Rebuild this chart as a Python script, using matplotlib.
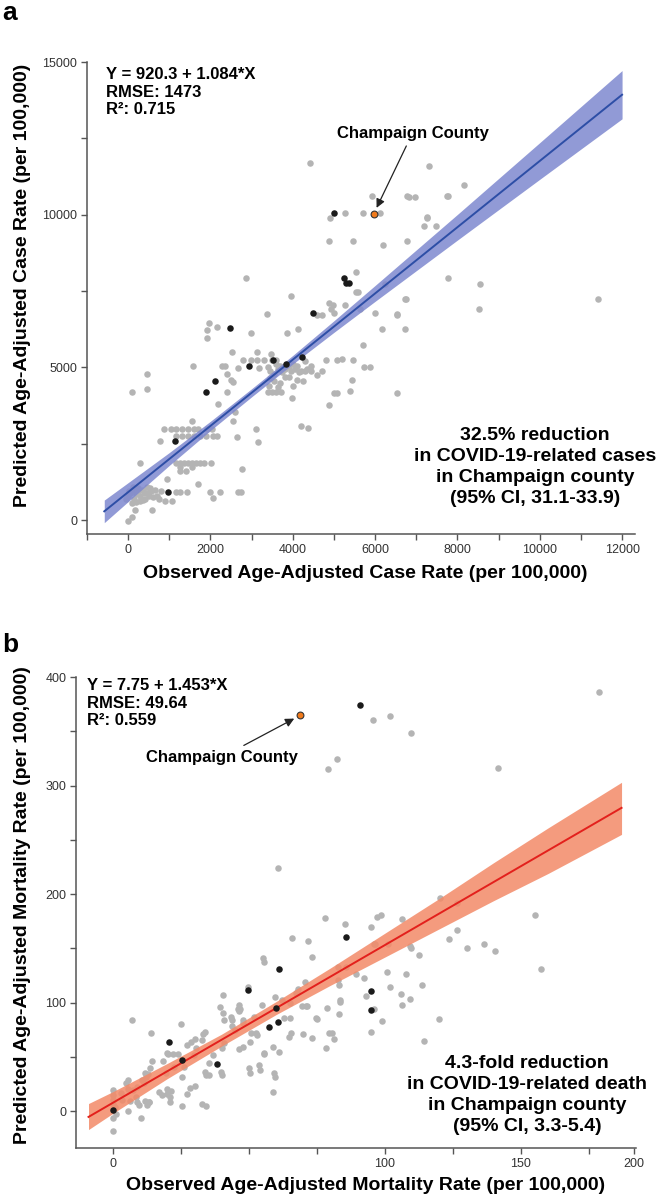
import matplotlib
matplotlib.use('Agg')
import matplotlib.pyplot as plt
import numpy as np

plt.rcParams['font.family'] = ['Liberation Sans', 'DejaVu Sans']

# ---------------- panel a : case rate ----------------
A_INTERCEPT = 920.3
A_SLOPE = 1.084

a_gray_x = [4420, 5923, 4897, 5268, 5697, 6108, 6780, 6820, 6980, 7272, 7192, 7490, 4872, 5454, 6189, 6787,
            2852, 5527, 5534, 3959, 3369, 4920, 4880, 4990, 4700, 4590, 4981, 5270, 6003, 6528, 6731,
            1956, 2150, 1907, 1923, 7312, 8160, 7740, 7780, 7262, 7765, 8540, 11417, 8517, 6747, 6536,
            6157, 6722, 5713, 4816, 5066, 5188, 5470, 5720, 5866, 5437, 5000, 5066, 5398, 6528, 6230,
            5630, 5580, 4137, 3870, 2974, 2529, 3135, 3475, 2780, 2980, 3135, 3297, 1584, 2286, 2350,
            2675, 3168, 453, 453, 105, 2392, 2392, 2489, 2553, 2189, 2594, 2545, 3390, 3500, 3600, 3710,
            3990, 3095, 3160, 2642, 2764, 2666, 2747, 4194, 4380, 4877,
            3400, 3450, 3550, 3600, 3650, 3700, 3750, 3800, 3900, 3950, 4000, 4050, 4100, 4150, 4200,
            4300, 4350, 4450, 4100, 3700, 3800, 3500, 3600, 3900, 4000, 3650, 4300, 4450, 3420, 3550,
            3450, 4250, 4600, 4700,
            1551, 880, 1050, 1160, 1300, 1450, 1600, 1700, 1907, 2030, 776,
            1160, 1300, 1450, 1600, 1750, 1900, 2060, 2170,
            290, 1160, 1250, 1350, 1450, 1550, 1650, 1750, 1840, 2010, 1260, 1400, 1260, 1550,
            1697, 945, 1163, 1250, 1430, 1995, 2222, 2052, 1067, 890,
            -50, 0, 50, 100, 150, 200, 250, 300, 350, 400, 450, 500, 550, 600, 650, 700, 350, 250,
            450, 100, 200, -7, 105, 170, 582, 800, 750, 30, 120, 280, 380, 520]
a_gray_y = [11710, 10620, 9900, 10060, 10060, 10060, 10620, 10590, 10590, 9910, 9630, 9620, 9150, 9150, 9000, 9150,
            7930, 8140, 7470, 7350, 6735, 6900, 7100, 6800, 6720, 6720, 7040, 7040, 6790, 6735, 7250,
            6470, 6330, 6230, 5980, 11580, 10980, 10600, 10600, 9900, 7940, 7740, 7240, 6900, 7240, 6720,
            6250, 6270, 5750, 5240, 5240, 5290, 5250, 5030, 5030, 4600, 4180, 4180, 4240, 4155, 7740,
            6900, 7460, 6260, 6120, 6120, 5520, 5520, 5430, 5260, 5260, 5260, 5260, 5040, 5040, 5040,
            4990, 4990, 4780, 4310, 4190, 4790, 4190, 4600, 4530, 3790, 3540, 3260, 4190, 4190, 4190, 4190,
            4000, 2990, 2570, 2740, 1690, 930, 930, 3100, 3020, 3760,
            5000, 4900, 4800, 5100, 4950, 5050, 4850, 4950, 5000, 4900, 5100, 4950, 5050, 4850, 4900,
            4900, 4950, 4900, 4600, 4500, 4700, 5250, 5250, 4700, 4400, 4350, 5200, 5050, 4400, 4550,
            4650, 4550, 4750, 4900,
            3260, 2990, 2990, 2990, 2990, 2990, 2990, 2990, 2990, 2990, 2580,
            2770, 2770, 2770, 2770, 2770, 2770, 2770, 2770,
            1880, 1880, 1880, 1880, 1880, 1880, 1880, 1880, 1880, 1880, 1600, 1600, 1740, 1740,
            1180, 1350, 930, 930, 930, 930, 930, 714, 636, 636,
            700, 800, 900, 1000, 700, 850, 950, 800, 1000, 700, 900, 800, 950, 750, 1000, 800, 650, 1050,
            1100, 550, 600, -20, 110, 330, 330, 950, 700, 950, 1080, 620, 880, 1050]
a_black_x = [5010, 5252, 5284, 5365, 4500, 2473, 3522, 2925, 3846, 4234, 2101, 1883, 1147, 961]
a_black_y = [10060, 7930, 7750, 7750, 6790, 6300, 5250, 5040, 5120, 5330, 4560, 4190, 2580, 930]
a_orange = (5963, 10020)

a_band_x = [-580, 0, 1000, 2000, 3000, 4000, 5000, 6000, 8000, 10000, 12000]
a_band_lo = [-80, 610, 1795, 2940, 4040, 5115, 6150, 7165, 9170, 11160, 13140]
a_band_hi = [660, 1230, 2215, 3240, 4305, 5395, 6530, 7685, 10010, 12360, 14720]

# ---------------- panel b : mortality rate ----------------
B_INTERCEPT = 7.75
B_SLOPE = 1.453

b_gray_x = [95.7, 101.8, 109.4, 79.1, 82.4, 141.7, 178.6, 60.5,
            120.3, 126.6, 155, 98.5, 97.2, 77.9, 85.4, 106.4, 94.8, 126.5, 123.5, 136.6, 130.2, 140.3,
            109.2, 109.6, 96.4, 101.1, 112.5, 157.5, 65.7, 71.6, 55.2, 55.6, 73, 49.5, 40.3, 39.5, 40.4,
            59.7, 67.9, 67.2, 70.7, 71.3, 78.8, 75, 83.3, 83.3, 83.1, 92.3, 92.9, 89.2, 95.9, 95, 99,
            100.9, 101.9, 105.8, 106.3, 107.7, 109.1, 113.8, 114.2, 120, 65.5, 64.7, 69.7, 73, 78.5,
            79.6, 80.4, 81.2, 61, 55.6, 59.4, 58.8, 54.1, 50.3, 53.1, 43.4, 43.9, 47.9, 46.2, 46.7,
            50.9, 46.2, 40, 40.8, 40, 36.8, 35.2, 34.2, 34.2, 33.7, 33.2, 32.6, 30.6, 29.8, 30.1, 28.4,
            25.4, 27.4, 24, 25.1, 26.2, 25.5, 27.4, 22, 22.4, 20.4, 21.5, 20.8, 20.8, 18, 19.6, 14.3,
            13.6, 14.1, 12.7, 11.8, 11.4, 10.6, 13.3, 12.5, 10.2, 6.9, 7.5, 8.6, 8.9, 9.4, 5.5, 4.9, 5.5,
            2.8, 3.4, 0, 0, 0, 0, 0, 0, 0.8, 1.1,
            45.8, 41, 43.9, 28.6, 30, 19.7, 18.5, 47.8, 50.3, 52.6, 55.4, 58.8, 49.9, 53.7, 59.1, 12.1,
            20, 19.7, 16.8, 13.3, 8.7, 5.6, 6.2, 11.7, 32.7, 35.4, 33.7, 39.8,
            82.6, 83.2, 85.5, 82.6, 67.5, 69.4, 71, 74.6, 46.2, 47.9, 44.8, 51.9, 54.9, 62, 65.1, 62.8,
            65, 95.8]
b_gray_y = [360.4, 364.3, 348.4, 314.9, 324.4, 316, 385.9, 224.3,
            196, 192, 180.3, 181, 178.5, 178.2, 172, 176.6, 169.9, 166.8, 158.2, 153.6, 149.9, 147.8,
            152.4, 150.5, 153.6, 153.9, 143.8, 130.9, 159.1, 156.4, 141.3, 137.6, 142.2, 114, 106.9, 95.9, 90.3,
            104.8, 113, 108.4, 118.6, 97.1, 94.6, 84.8, 102, 100.5, 89.1, 122.9, 106, 126.3, 94.3, 73.1, 82.6,
            128.4, 114.3, 107.8, 97.4, 126, 103.2, 115.8, 64.2, 85.1, 72.2, 68.5, 71, 67.6, 58.1,
            71.6, 71.6, 66.7, 54.1, 52.5, 31.6, 17.2, 38.1, 35.6, 70, 86.3, 83.9, 83.9, 92.5, 94.3,
            71.6, 56.8, 58.4, 63, 33.2, 51.6, 33.2, 33.2, 4.3, 73.1, 71, 65.4, 57.8, 51.6, 23.3, 20.9,
            31.6, 60.8, 53.1, 79.9, 40.9, 4.9, 16, 53.1, 40.9, 52.5, 18.7, 13.2, 8.3, 14.7, 34.7, 46.1,
            39.9, 71.6, 34.1, 34.7, 25.5, 28.6, 8, 5.5, -6.5, 83.9, 19.4, 13.2, 8.6, 5.5, 28.6, 25.5, 0,
            16.3, 10.1, 19.4, 14.7, 10.1, 7, -6.1, -18.4, 4, -2.2,
            93.7, 83.9, 78.4, 63.6, 66.6, 53.5, 46.2, 59.1, 64, 71.9, 53.9, 59.4, 39.8, 42.6, 35.4, 31.1,
            20.3, 15.7, 17.2, 8.6, 21.8, 20.3, 9.5, 9.8, 7, 43.9, 35.7, 35.7,
            120.7, 116.1, 133, 133, 110, 96.5, 96.5, 85.4, 97.7, 80.8, 74.5, 86.9, 98.2, 102.3, 99.2, 85.4,
            85.4, 153.9]
b_black_x = [0.1, 20.7, 25.5, 38.4, 49.8, 57.2, 60, 60.8, 61.1, 85.6, 95, 95, 91]
b_black_y = [0.9, 63.6, 46.7, 43.6, 111.2, 77.4, 94.6, 81.7, 131.2, 160.4, 110.3, 92.8, 374.5]
b_orange = (68.9, 364.7)

b_band_x = [-9, 0, 20, 40, 60, 80, 100, 120, 140, 160, 187]
b_band_lo = [-17, -2, 30, 60, 89, 116, 142, 168, 194, 219, 255]
b_band_hi = [7, 18, 44, 71, 101, 132, 164, 196, 229, 261, 303]

GRAY = '#b4b4b4'
BLACK = '#1a1a1a'
ORANGE = '#f07a1c'
TICK_COLOR = '#333333'
SPINE_COLOR = '#555555'


def style_axes(ax):
    for side in ['top', 'right']:
        ax.spines[side].set_visible(False)
    for side in ['left', 'bottom']:
        ax.spines[side].set_color(SPINE_COLOR)
        ax.spines[side].set_linewidth(1.1)
    ax.tick_params(direction='out', length=4, width=1, color=SPINE_COLOR,
                   labelsize=9, labelcolor=TICK_COLOR, pad=3)


def draw_panel(ax, gx, gy, bx, by, orange, band_x, lo, hi, intercept, slope,
               band_color, line_color):
    ax.scatter(gx, gy, s=22, color=GRAY, linewidths=0, zorder=1)
    ax.fill_between(band_x, lo, hi, color=band_color, alpha=0.85, linewidth=0, zorder=2)
    xs = np.array([band_x[0], band_x[-1]])
    ax.plot(xs, intercept + slope * xs, color=line_color, lw=1.4, zorder=3)
    ax.scatter(bx, by, s=22, color=BLACK, linewidths=0, zorder=4)
    ax.scatter([orange[0]], [orange[1]], s=24, color=ORANGE, edgecolors='#333333',
               linewidths=0.8, zorder=5)


fig = plt.figure(figsize=(6.66, 11.97), dpi=100)

# ---- panel a ----
ax1 = fig.add_axes([0.1306, 0.5539, 0.8229, 0.3943])
draw_panel(ax1, a_gray_x, a_gray_y, a_black_x, a_black_y, a_orange,
           a_band_x, a_band_lo, a_band_hi, A_INTERCEPT, A_SLOPE, '#7e88cf', '#2d4ea6')
ax1.set_xlim(-1000, 12315)
ax1.set_ylim(-450, 15000)
style_axes(ax1)
ax1.set_xticks(np.arange(-1000, 12001, 1000))
ax1.set_xticklabels([str(v) if v >= 0 and v % 2000 == 0 else '' for v in range(-1000, 12001, 1000)])
ax1.set_yticks(np.arange(0, 15001, 2500))
ax1.set_yticklabels([str(v) if v % 5000 == 0 else '' for v in range(0, 15001, 2500)])

ax1.text(-533, 14830, f'Y = {A_INTERCEPT} + {A_SLOPE}*X\nRMSE: 1473\nR²: 0.715',
         ha='left', va='top', fontsize=12, fontweight='bold', linespacing=1.2)
ax1.annotate('Champaign County', xy=a_orange, xytext=(6908, 12670),
             ha='center', va='center', fontsize=12, fontweight='bold',
             arrowprops=dict(arrowstyle='-|>', color='#222222', lw=0.9,
                             mutation_scale=13, shrinkA=2, shrinkB=5))
ax1.text(9890, 1744, '32.5% reduction\nin COVID-19-related cases\nin Champaign county\n(95% CI, 31.1-33.9)',
         ha='center', va='center', fontsize=14, fontweight='bold', linespacing=1.3)

fig.text(0.548, 0.5205, 'Observed Age-Adjusted Case Rate (per 100,000)',
         ha='center', va='center', fontsize=14, fontweight='bold')
fig.text(0.0345, 0.762, 'Predicted Age-Adjusted Case Rate (per 100,000)',
         ha='center', va='center', rotation=90, fontsize=14, fontweight='bold')

# ---- panel b ----
ax2 = fig.add_axes([0.1141, 0.0409, 0.8408, 0.3935])
draw_panel(ax2, b_gray_x, b_gray_y, b_black_x, b_black_y, b_orange,
           b_band_x, b_band_lo, b_band_hi, B_INTERCEPT, B_SLOPE, '#f38a68', '#e3201c')
ax2.set_xlim(-13.6, 192.3)
ax2.set_ylim(-34, 400)
style_axes(ax2)
b_xticks = [0, 25, 50, 75, 100, 125, 150, 175, 191.5]
b_xlabels = ['0', '', '', '', '100', '', '150', '', '200']
ax2.set_xticks(b_xticks)
ax2.set_xticklabels(b_xlabels)
ax2.set_yticks(np.arange(0, 401, 50))
ax2.set_yticklabels([str(v) if v % 100 == 0 else '' for v in range(0, 401, 50)])

ax2.text(-9.6, 399, f'Y = {B_INTERCEPT} + {B_SLOPE}*X\nRMSE: 49.64\nR²: 0.559',
         ha='left', va='top', fontsize=12, fontweight='bold', linespacing=1.2)
ax2.annotate('Champaign County', xy=b_orange, xytext=(40.1, 326.3),
             ha='center', va='center', fontsize=12, fontweight='bold',
             arrowprops=dict(arrowstyle='-|>', color='#222222', lw=0.9,
                             mutation_scale=13, shrinkA=2, shrinkB=5))
ax2.text(152.2, 14.7, '4.3-fold reduction\nin COVID-19-related death\nin Champaign county\n(95% CI, 3.3-5.4)',
         ha='center', va='center', fontsize=14, fontweight='bold', linespacing=1.3)

fig.text(0.5495, 0.01, 'Observed Age-Adjusted Mortality Rate (per 100,000)',
         ha='center', va='center', fontsize=14, fontweight='bold')
fig.text(0.0345, 0.2439, 'Predicted Age-Adjusted Mortality Rate (per 100,000)',
         ha='center', va='center', rotation=90, fontsize=14, fontweight='bold')

# panel letters
fig.text(0.003, 0.9835, 'a', ha='left', va='baseline', fontsize=19, fontweight='bold')
fig.text(0.003, 0.4553, 'b', ha='left', va='baseline', fontsize=19, fontweight='bold')

fig.savefig('out.png', dpi=100)
